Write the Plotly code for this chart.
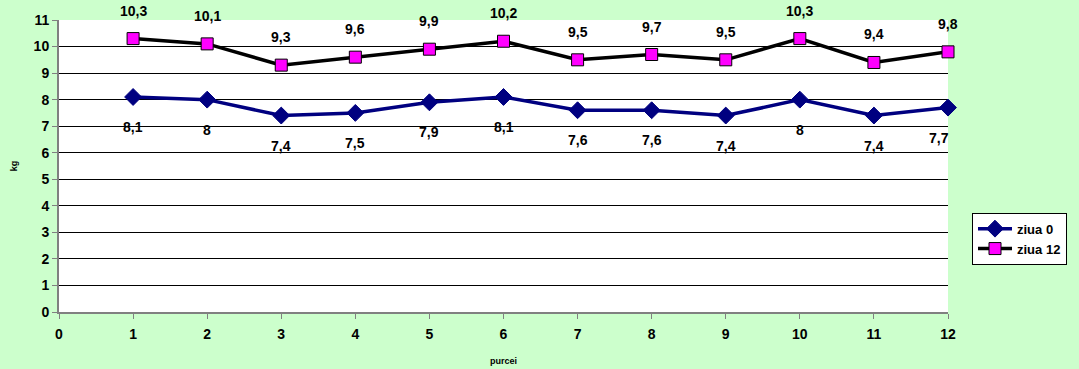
import plotly.graph_objects as go

purcei = [1, 2, 3, 4, 5, 6, 7, 8, 9, 10, 11, 12]
ziua0 = [8.1, 8.0, 7.4, 7.5, 7.9, 8.1, 7.6, 7.6, 7.4, 8.0, 7.4, 7.7]
ziua12 = [10.3, 10.1, 9.3, 9.6, 9.9, 10.2, 9.5, 9.7, 9.5, 10.3, 9.4, 9.8]
x_ticks = list(range(0, 13))
y_ticks = list(range(0, 12))

FONT = "Liberation Sans, Arial"


def fmt(v):
    return ("%g" % v).replace(".", ",")


fig = go.Figure()
fig.add_trace(go.Scatter(
    x=purcei, y=ziua0, name="<b>ziua 0</b>", mode="lines+markers",
    line=dict(color="#000080", width=3.5),
    marker=dict(symbol="diamond", size=13, color="#000080",
                line=dict(color="#000080", width=1)),
    cliponaxis=False,
))
fig.add_trace(go.Scatter(
    x=purcei, y=ziua12, name="<b>ziua 12</b>", mode="lines+markers",
    line=dict(color="#000000", width=3.5),
    marker=dict(symbol="square", size=12, color="#FF00FF",
                line=dict(color="#000000", width=1)),
    cliponaxis=False,
))

annotations = []
for x, v in zip(purcei, ziua12):
    annotations.append(dict(x=x, y=v, text="<b>" + fmt(v) + "</b>", showarrow=False,
                            yshift=28, font=dict(family=FONT, size=14, color="black")))
for i, (x, v) in enumerate(zip(purcei, ziua0)):
    annotations.append(dict(x=x, y=v, text="<b>" + fmt(v) + "</b>", showarrow=False,
                            yshift=-30, xshift=(-9 if i == len(purcei) - 1 else 0),
                            font=dict(family=FONT, size=14, color="black")))

fig.update_layout(
    width=1079, height=369,
    paper_bgcolor="#CCFFCC", plot_bgcolor="#FFFFFF",
    margin=dict(l=59, r=129, t=20, b=57),
    font=dict(family=FONT, size=14, color="black"),
    showlegend=True,
    legend=dict(x=1.027, y=0.34, xanchor="left", yanchor="top",
                bgcolor="#FFFFFF", bordercolor="#000000", borderwidth=1,
                font=dict(size=13, color="black", family=FONT), tracegroupgap=0,
                itemwidth=34),
    annotations=annotations,
)
fig.update_xaxes(
    range=[0, 12], tickvals=x_ticks, ticktext=["<b>%d</b>" % t for t in x_ticks],
    showgrid=False, zeroline=False, automargin=False,
    showline=True, linecolor="#808080", linewidth=2,
    ticks="outside", ticklen=5, tickcolor="#808080", ticklabelstandoff=3,
    tickfont=dict(size=14, family=FONT, color="black"),
    title=dict(text="<b>purcei</b>", font=dict(size=9, family=FONT), standoff=17),
)
fig.update_yaxes(
    range=[0, 11], tickvals=y_ticks, ticktext=["<b>%d</b>" % t for t in y_ticks],
    showgrid=True, gridcolor="#000000", gridwidth=1, zeroline=False, automargin=False,
    showline=True, linecolor="#808080", linewidth=2,
    ticks="outside", ticklen=5, tickcolor="#808080",
    tickfont=dict(size=14, family=FONT, color="black"),
    title=dict(text="<b>kg</b>", font=dict(size=9, family=FONT), standoff=14),
)

fig.write_html("out.html", config={"displayModeBar": False},
               post_script="document.body.style.margin='0';document.body.style.background='#CCFFCC';")
